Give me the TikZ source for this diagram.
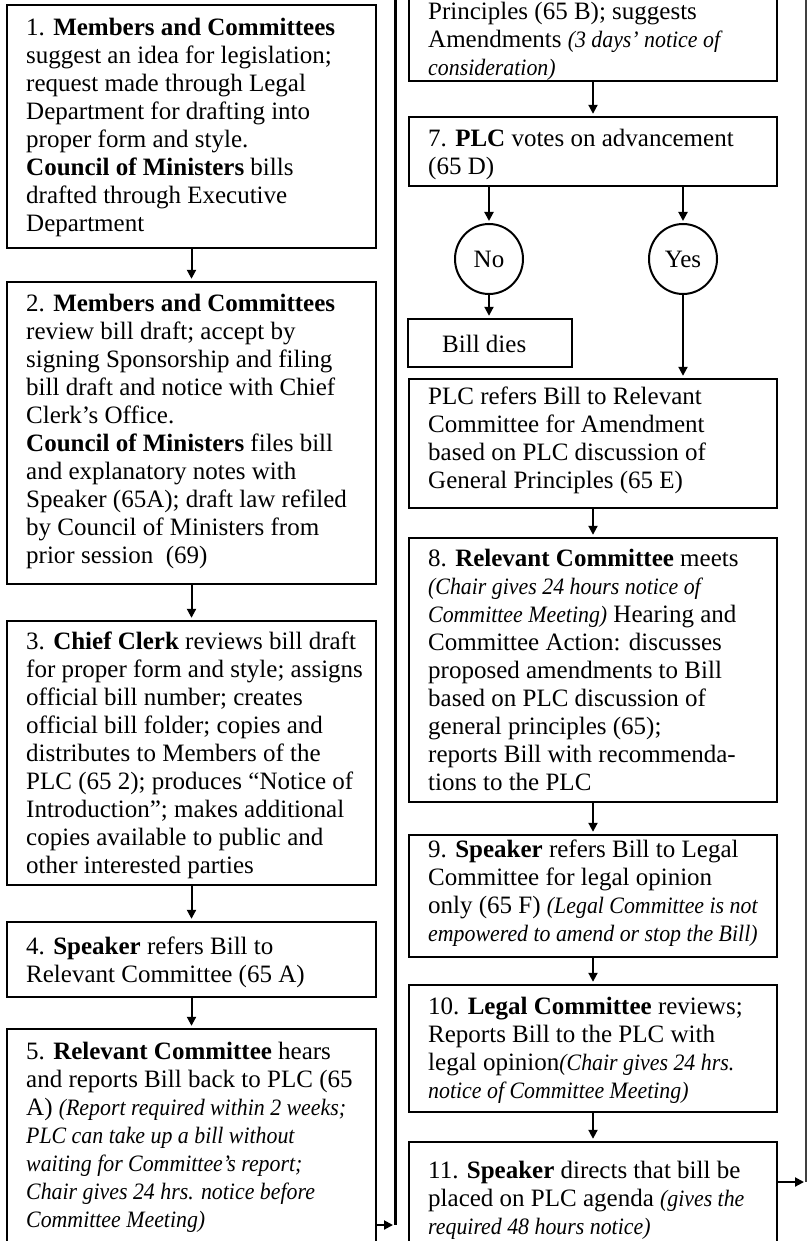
\documentclass[tikz,border=0pt]{standalone}
\usepackage{fontspec}
\setmainfont{Liberation Serif}
\usetikzlibrary{arrows.meta,calc,shapes.geometric}
\newcommand\ital[1]{\scalebox{0.93}[1]{\fontsize{23.5}{28}\selectfont\itshape #1}}
\begin{document}
\begin{tikzpicture}[x=1pt,y=-1pt,
  box/.style={draw, line width=2.4pt, rectangle, inner sep=0pt},
  txt/.style={anchor=north west, align=left, inner sep=0pt, font=\fontsize{25}{28}\selectfont},
  arr/.style={line width=2pt, -{Triangle[length=9pt,width=9pt]}, shorten >=2pt},
  vline/.style={line width=3pt},
  rline/.style={line width=1.6pt, black!75},
  circ/.style={draw, line width=2pt, ellipse, minimum width=68pt, minimum height=70pt, inner sep=0pt, font=\fontsize{25}{28}\selectfont}]
\useasboundingbox (0,0) rectangle (809,1241);
\clip (0,0) rectangle (809,1241);
% left column boxes
\node[box, minimum width=369, minimum height=243] (b1) at (191.5,126.5) {};
\node[box, minimum width=369, minimum height=302] (b2) at (191.5,433) {};
\node[box, minimum width=369, minimum height=264] (b3) at (191.5,753) {};
\node[box, minimum width=369, minimum height=75]  (b4) at (191.5,959.5) {};
\node[box, minimum width=369, minimum height=271] (b5) at (191.5,1164.5) {};
% right column boxes
\node[box, minimum width=368, minimum height=141] (b6) at (593,10.5) {};
\node[box, minimum width=368, minimum height=69]  (b7) at (593,151.5) {};
\node[circ] (cno) at (489,259) {No};
\node[circ] (cyes) at (683,259) {Yes};
\node[box, minimum width=164, minimum height=48] (bdies) at (490,343) {};
\node[box, minimum width=368, minimum height=129] (bref) at (593,443.5) {};
\node[box, minimum width=368, minimum height=264] (b8) at (593,670) {};
\node[box, minimum width=368, minimum height=122] (b9) at (593,896) {};
\node[box, minimum width=368, minimum height=127] (b10) at (593,1048.5) {};
\node[box, minimum width=368, minimum height=158] (b11) at (593,1221) {};
% texts
\node[txt] (t1) at (26,15.4) {\strut 1. \textbf{Members and Committees}\\
suggest an idea for legislation;\\
request made through Legal\\
Department for drafting into\\
proper form and style.\\
\textbf{Council of Ministers} bills\\
drafted through Executive\\
Department};
\node[txt] (t2) at (26,291.4) {\strut 2. \textbf{Members and Committees}\\
review bill draft; accept by\\
signing Sponsorship and filing\\
bill draft and notice with Chief\\
Clerk’s Office.\\
\textbf{Council of Ministers} files bill\\
and explanatory notes with\\
Speaker (65A); draft law refiled\\
by Council of Ministers from\\
prior session\ \ (69)};
\node[txt] (t3) at (26,629.4) {\strut 3. \textbf{Chief Clerk} reviews bill draft\\
for proper form and style; assigns\\
official bill number; creates\\
official bill folder; copies and\\
distributes to Members of the\\
PLC (65 2); produces “Notice of\\
Introduction”; makes additional\\
copies available to public and\\
other interested parties};
\node[txt] (t4) at (26,934.4) {\strut 4. \textbf{Speaker} refers Bill to\\
Relevant Committee (65 A)};
\node[txt] (t5) at (26,1039.4) {\strut 5. \textbf{Relevant Committee} hears\\
and reports Bill back to PLC (65\\
A) \ital{(Report required within 2 weeks;}\\
\ital{PLC can take up a bill without}\\
\ital{waiting for Committee’s report;}\\
\ital{Chair gives 24 hrs. notice before}\\
\ital{Committee Meeting)}};
\node[txt] (t6) at (428,-0.6) {\strut Principles (65 B); suggests\\
Amendments \ital{(3 days’ notice of}\\
\ital{consideration)}};
\node[txt] (t7) at (428,126.4) {\strut 7. \textbf{PLC} votes on advancement\\
(65 D)};
\node[txt] (tdies) at (442,332.4) {\strut Bill dies};
\node[txt] (tref) at (428,384.4) {\strut PLC refers Bill to Relevant\\
Committee for Amendment\\
based on PLC discussion of\\
General Principles (65 E)};
\node[txt] (t8) at (428,546.4) {\strut 8. \textbf{Relevant Committee} meets\\
\ital{(Chair gives 24 hours notice of}\\
\ital{Committee Meeting)} Hearing and\\
Committee Action: discusses\\
proposed amendments to Bill\\
based on PLC discussion of\\
general principles (65);\\
reports Bill with recommenda-\\
tions to the PLC};
\node[txt] (t9) at (428,837.4) {\strut 9. \textbf{Speaker} refers Bill to Legal\\
Committee for legal opinion\\
only (65 F)\ \ital{(Legal Committee is not}\\
\ital{empowered to amend or stop the Bill)}};
\node[txt] (t10) at (428,994.4) {\strut 10. \textbf{Legal Committee} reviews;\\
Reports Bill to the PLC with\\
legal opinion\ital{(Chair gives 24 hrs.}\\
\ital{notice of Committee Meeting)}};
\node[txt] (t11) at (428,1158.4) {\strut 11. \textbf{Speaker} directs that bill be\\
placed on PLC agenda \ital{(gives the}\\
\ital{required 48 hours notice)}};
% connectors
\draw[arr] (b1.south) -- (b2.north);
\draw[arr] (b2.south) -- (b3.north);
\draw[arr] (b3.south) -- (b4.north);
\draw[arr] (b4.south) -- (b5.north);
\draw[arr] (b6.south) -- (b7.north);
\draw[arr] (b7.south -| cno) -- (cno.north);
\draw[arr] (b7.south -| cyes) -- (cyes.north);
\draw[arr] (cno.south) -- (bdies.north -| cno);
\draw[arr] (cyes.south) -- (bref.north -| cyes);
\draw[arr] (bref.south) -- (b8.north);
\draw[arr] (b8.south) -- (b9.north);
\draw[arr] (b9.south) -- (b10.north);
\draw[arr] (b10.south) -- (b11.north);
% return lines
\coordinate (ltop) at (395,0);
\coordinate (l5) at (395,1225);
\draw[vline] (ltop) -- (l5);
\draw[arr] (b5.east |- l5) -- (l5);
\coordinate (rtop) at (806,0);
\coordinate (r11) at (806,1182);
\draw[rline] (rtop) -- (r11);
\draw[arr] (b11.east |- r11) -- (r11);
\end{tikzpicture}
\end{document}
